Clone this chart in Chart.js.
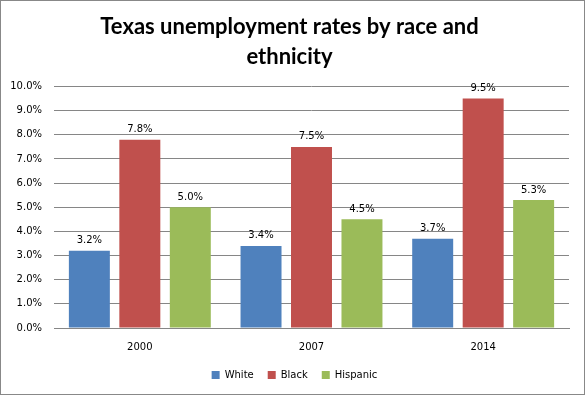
<!DOCTYPE html>
<html>
<head>
<meta charset="utf-8">
<script src="https://cdn.jsdelivr.net/npm/chart.js@4"></script>
<style>
  html, body { margin: 0; padding: 0; background: #fff; }
  #wrap { width: 585px; height: 395px; }
</style>
</head>
<body>
<div id="wrap"><canvas id="myChart" width="585" height="395"></canvas></div>
<script>
const years = ['2000', '2007', '2014'];
const white = [3.2, 3.4, 3.7];
const black = [7.8, 7.5, 9.5];
const hispanic = [5.0, 4.5, 5.3];

const gridColor = '#868686';

// draws the value on top of each bar
const barLabels = {
    id: 'barLabels',
    afterDatasetsDraw(chart) {
        const c = chart.ctx;
        c.save();
        c.font = '10px "DejaVu Sans"';
        c.fillStyle = '#000';
        c.textAlign = 'center';
        c.textBaseline = 'bottom';
        chart.data.datasets.forEach((ds, i) => {
            chart.getDatasetMeta(i).data.forEach((bar, j) => {
                c.fillText(ds.data[j].toFixed(1) + '%', bar.x, bar.y - 5);
            });
        });
        c.restore();
    }
};

// outer frame + nudge legend a bit to the right like the original
const frame = {
    id: 'frame',
    afterLayout(chart) {
        chart.legend.left += 5;
        chart.legend.right += 5;
    },
    afterDraw(chart) {
        const c = chart.ctx;
        c.save();
        c.strokeStyle = '#888';
        c.lineWidth = 1;
        c.strokeRect(0.5, 0.5, chart.width - 1, chart.height - 1);
        c.restore();
    }
};

new Chart(document.getElementById('myChart'), {
    type: 'bar',
    data: {
        labels: years,
        datasets: [
            { label: 'White', data: white, backgroundColor: '#4F81BD' },
            { label: 'Black', data: black, backgroundColor: '#C0504D' },
            { label: 'Hispanic', data: hispanic, backgroundColor: '#9BBB59' }
        ]
    },
    options: {
        responsive: false,
        animation: false,
        categoryPercentage: 0.882,
        barPercentage: 0.812,
        layout: { padding: { left: 10, right: 16, top: 0, bottom: 5 } },
        plugins: {
            title: {
                display: true,
                text: ['Texas unemployment rates by race and', 'ethnicity'],
                color: '#000',
                font: { family: 'Lato', size: 22, weight: 'bold', lineHeight: 1.364 },
                padding: { top: 12, bottom: 14.5 }
            },
            legend: {
                position: 'bottom',
                labels: {
                    boxWidth: 8,
                    boxHeight: 8,
                    padding: 14,
                    color: '#000',
                    font: { family: 'DejaVu Sans', size: 10 }
                }
            },
            tooltip: { enabled: false }
        },
        scales: {
            x: {
                afterFit: s => { s.height = 28; },
                grid: { display: false, drawTicks: false },
                border: { display: true, color: gridColor },
                ticks: { color: '#000', padding: 13, font: { family: 'DejaVu Sans', size: 10 } }
            },
            y: {
                min: 0,
                max: 10,
                afterFit: s => { s.width = 44; },
                grid: { color: gridColor, drawTicks: false },
                border: { display: false },
                ticks: {
                    stepSize: 1,
                    padding: 12,
                    color: '#000',
                    font: { family: 'DejaVu Sans', size: 10 },
                    callback: v => v.toFixed(1) + '%'
                }
            }
        }
    },
    plugins: [barLabels, frame]
});
</script>
</body>
</html>
